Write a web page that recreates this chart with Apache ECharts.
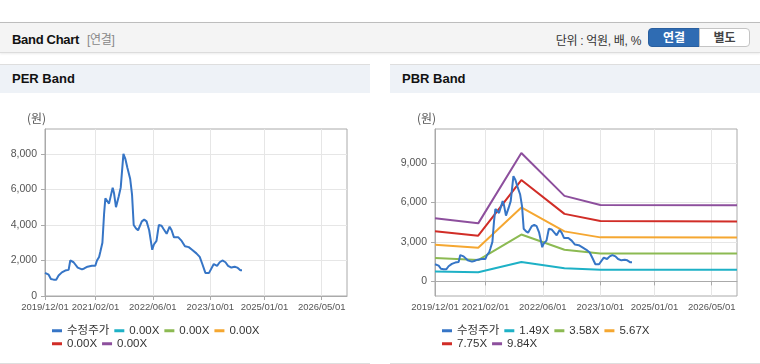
<!DOCTYPE html>
<html>
<head>
<meta charset="utf-8">
<script src="https://cdn.jsdelivr.net/npm/echarts@6/dist/echarts.min.js"></script>
<style>
  body { margin: 0; width: 760px; height: 364px; background: #fff; position: relative; overflow: hidden;
    font-family: "Liberation Sans", "Noto Sans CJK KR", sans-serif; }
  .top { position: absolute; left: 0; top: 22px; width: 760px; height: 29px; background: #f4f4f4;
    border-top: 1px solid #bdbdbd; border-bottom: 1px solid #dcdcdc; box-shadow: 0 1px 2px rgba(0,0,0,0.08); }
  .top .ttl { position: absolute; left: 12px; top: 7px; font-size: 13px; font-weight: bold; color: #111; letter-spacing: -0.3px; }
  .top .sub { font-size: 12px; font-weight: normal; color: #888; margin-left: 8px; }
  .top .unit { position: absolute; right: 119px; top: 8px; font-size: 12px; color: #333; letter-spacing: -0.3px; }
  .btn { position: absolute; top: 5px; height: 19px; line-height: 19px; font-size: 12px; font-weight: bold; text-align: center; }
  .b1 { left: 648px; width: 52px; background: #2f6cb3; color: #fff; border: 1px solid #2a5f9f; border-radius: 4px 0 0 4px; box-sizing: border-box; }
  .b2 { left: 699px; width: 51px; background: #fff; color: #444; border: 1px solid #c4c4c4; border-radius: 0 4px 4px 0; box-sizing: border-box; }
  .panel { position: absolute; top: 64px; width: 370px; height: 298px; border-top: 1px solid #dedede; border-bottom: 1px solid #dedede; }
  .panel .hd { height: 28px; line-height: 28px; background: #eef2f7; padding-left: 12px; font-size: 13px; font-weight: bold; color: #111; }
  .chart { position: absolute; left: 0; top: 29px; width: 370px; height: 270px; }
</style>
</head>
<body>
<div class="top">
  <div class="ttl">Band Chart<span class="sub">[연결]</span></div>
  <div class="unit">단위 : 억원, 배, %</div>
  <div class="btn b1">연결</div>
  <div class="btn b2">별도</div>
</div>
<div class="panel" style="left:0"><div class="hd">PER Band</div><div class="chart" id="per"></div></div>
<div class="panel" style="left:390px"><div class="hd">PBR Band</div><div class="chart" id="pbr"></div></div>
<script>
// 수정주가 (adjusted price)
const priceDates = [
  '2019-12-01','2020-01-01','2020-01-20','2020-02-12','2020-03-05','2020-03-25','2020-04-22','2020-05-20',
  '2020-06-18','2020-07-02','2020-07-30','2020-09-03','2020-10-09','2020-10-28','2020-11-25','2021-01-01',
  '2021-01-30','2021-02-13','2021-03-03','2021-03-14','2021-03-31','2021-04-14','2021-04-25','2021-05-26',
  '2021-06-04','2021-06-26','2021-07-07','2021-07-24','2021-08-16','2021-09-02','2021-09-25','2021-10-12',
  '2021-10-29','2021-11-21','2021-12-07','2021-12-21','2022-01-10','2022-01-27','2022-02-28','2022-03-20',
  '2022-04-09','2022-05-01','2022-05-27','2022-06-10','2022-07-02','2022-07-22','2022-08-14','2022-08-28',
  '2022-09-26','2022-10-21','2022-11-07','2022-11-27','2023-01-03','2023-01-31','2023-02-28','2023-04-01',
  '2023-04-29','2023-06-05','2023-07-03','2023-07-25','2023-08-20','2023-09-20','2023-10-02','2023-10-30',
  '2023-11-27','2023-12-19','2024-01-11','2024-02-06','2024-02-28','2024-03-27','2024-04-24','2024-05-16',
  '2024-06-11','2024-06-25'
];
const price = [
  1300, 1200, 960, 920, 920, 1150, 1330, 1430,
  1470, 2000, 1900, 1600, 1500, 1550, 1650, 1700,
  1700, 2000, 2200, 2500, 3000, 4600, 5500, 5200,
  5300, 6100, 5800, 5000, 5600, 6100, 8000, 7700,
  7200, 6600, 5700, 4000, 3800, 3700, 4200, 4300,
  4200, 3700, 2600, 2900, 3100, 4000, 3950, 3800,
  3500, 3900, 3700, 3300, 3300, 3100, 2800, 2750,
  2600, 2400, 2200, 1800, 1300, 1300, 1400, 1800,
  1700, 1900, 2000, 1900, 1700, 1600, 1650, 1600,
  1450, 1450
];

// PBR band lines
const bandDates = ['2019-12-01', '2020-12-01', '2021-12-01', '2022-12-01', '2023-10-01', '2026-12-01'];
const pbr149 = [760, 700, 1480, 1000, 885, 880];
const pbr358 = [1780, 1620, 3560, 2400, 2120, 2110];
const pbr567 = [2790, 2560, 5620, 3800, 3345, 3340];
const pbr775 = [3810, 3470, 7700, 5130, 4590, 4560];
const pbr984 = [4800, 4410, 9750, 6500, 5810, 5790];

const perLegend = ['수정주가', '0.00X', '0.00X', '0.00X', '0.00X', '0.00X'];
const pbrLegend = ['수정주가', '1.49X', '3.58X', '5.67X', '7.75X', '9.84X'];

const xTicks = ['2019-12-01', '2021-02-01', '2022-06-01', '2023-10-01', '2025-01-01', '2026-05-01'];
const perTicks = [0, 2000, 4000, 6000, 8000];
const pbrTicks = [0, 3000, 6000, 9000];

const colors = ['#3675c6', '#1eb1c6', '#8cba52', '#f5a731', '#d12d27', '#8d4f9d'];

const toTime = s => {
  const p = s.split('-');
  return new Date(+p[0], +p[1] - 1, +p[2]).getTime();
};
const zip = (ds, vs) => ds.map((d, i) => [toTime(d), vs[i]]);
const pad = n => (n < 10 ? '0' : '') + n;

function buildOption(labels, bands, yMin, yMax, yTicks) {
  const keys = labels.map((l, i) => 's' + i);
  const series = keys.map((k, i) => ({
    name: k,
    type: 'line',
    symbol: 'none',
    lineStyle: { width: 2, color: colors[i] },
    itemStyle: { color: colors[i] },
    z: i === 0 ? 5 : 3,
    data: i === 0 ? zip(priceDates, price) : (bands[i - 1] ? zip(bandDates, bands[i - 1]) : [])
  }));
  const legendBase = {
    left: 52,
    icon: 'rect',
    itemWidth: 10,
    itemHeight: 3,
    itemGap: 5,
    padding: 0,
    formatter: n => labels[keys.indexOf(n)],
    textStyle: { fontSize: 11.5, color: '#333', width: 45, fontFamily: '"Liberation Sans", "Noto Sans CJK KR"' }
  };
  return {
    animation: false,
    color: colors,
    grid: { left: 45, top: 35, width: 302, height: 167, show: true, borderColor: '#aaa', borderWidth: 1 },
    graphic: [{ type: 'text', left: 27, top: 18, style: { text: '(원)', fontSize: 12, fill: '#555', fontFamily: '"Noto Sans CJK KR"' } }],
    legend: [
      Object.assign({}, legendBase, { top: 231, data: keys.slice(0, 4) }),
      Object.assign({}, legendBase, { top: 244, data: keys.slice(4) })
    ],
    xAxis: {
      type: 'value',
      min: toTime('2019-12-01'),
      max: toTime('2026-12-01'),
      axisLine: { lineStyle: { color: '#aaa' } },
      axisTick: { show: true, length: 4, lineStyle: { color: '#aaa' }, customValues: xTicks.map(toTime) },
      axisLabel: {
        customValues: xTicks.map(toTime),
        showMinLabel: true,
        hideOverlap: false,
        margin: 6,
        fontSize: 9.5,
        color: '#555',
        formatter: v => {
          const d = new Date(v);
          return d.getFullYear() + '/' + pad(d.getMonth() + 1) + '/' + pad(d.getDate());
        }
      },
      splitLine: { show: true, lineStyle: { color: '#e6e6e6' } }
    },
    yAxis: {
      type: 'value',
      min: yMin,
      max: yMax,
      axisLine: { show: true, lineStyle: { color: '#aaa' } },
      axisTick: { show: true, length: 4, lineStyle: { color: '#aaa' }, customValues: yTicks },
      axisLabel: { customValues: yTicks, margin: 8, fontSize: 10.5, color: '#555' },
      splitLine: { show: true, lineStyle: { color: '#e6e6e6' } }
    },
    series: series
  };
}

const perChart = echarts.init(document.getElementById('per'));
perChart.setOption(buildOption(perLegend, [], 0, 9400, perTicks));

const pbrChart = echarts.init(document.getElementById('pbr'));
pbrChart.setOption(buildOption(pbrLegend, [pbr149, pbr358, pbr567, pbr775, pbr984], -1110, 11580, pbrTicks));
</script>
</body>
</html>
